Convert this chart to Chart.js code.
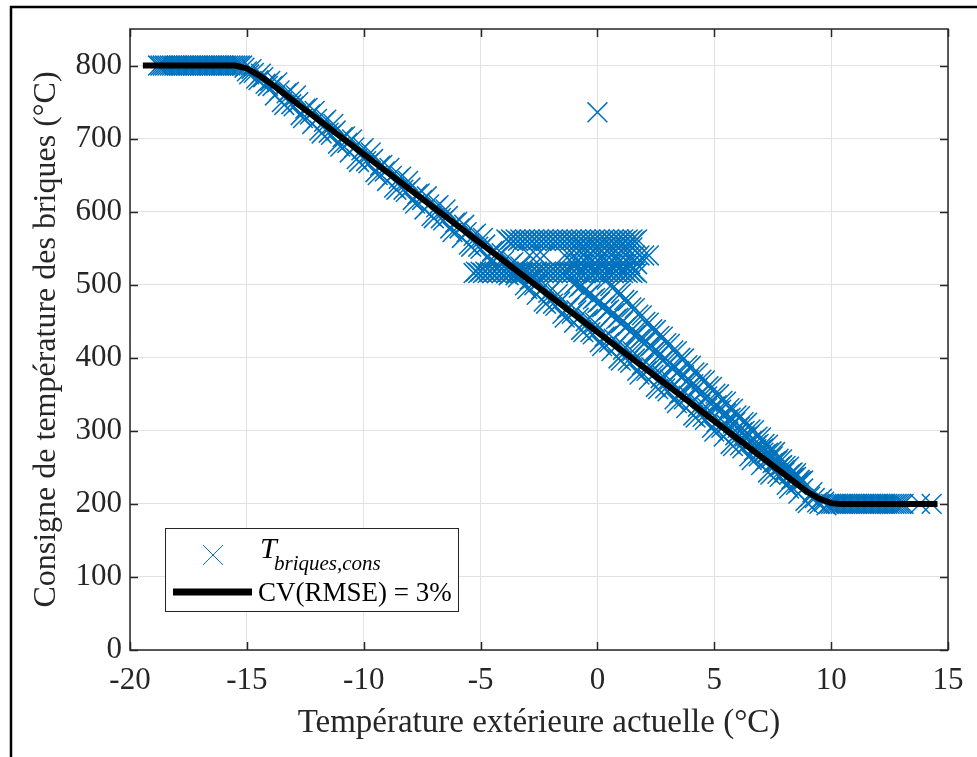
<!DOCTYPE html>
<html>
<head>
<meta charset="utf-8">
<script src="https://cdn.jsdelivr.net/npm/chart.js@4"></script>
<style>
  html, body { margin: 0; padding: 0; background: #fff; overflow: hidden; }
  canvas { display: block; }
</style>
</head>
<body>
<canvas id="chart" width="977" height="757"></canvas>
<script>
// Tick labels
const xTicks = [-20, -15, -10, -5, 0, 5, 10, 15];
const yTicks = [0, 100, 200, 300, 400, 500, 600, 700, 800];

// Fitted curve (CV(RMSE) = 3%)
const fitX = [-19.45, -15.5, -15.0, -14.5, -14.0, 9.0, 9.5, 10.0, 10.4, 14.55];
const fitY = [800, 800, 796, 787, 776, 216, 207, 201, 200, 200];

const plateauHigh = [
  [-18.8, 800], [-18.7, 800], [-18.6, 800], [-18.5, 800], [-18.4, 800], [-18.3, 800],
  [-18.2, 800], [-18.1, 800], [-18.0, 800], [-17.9, 800], [-17.8, 800], [-17.7, 800],
  [-17.6, 800], [-17.5, 800], [-17.4, 800], [-17.3, 800], [-17.2, 800], [-17.1, 800],
  [-17.0, 800], [-16.9, 800], [-16.8, 800], [-16.7, 800], [-16.6, 800], [-16.5, 800],
  [-16.4, 800], [-16.3, 800], [-16.2, 800], [-16.1, 800], [-16.0, 800], [-15.9, 800],
  [-15.8, 800], [-15.7, 800], [-15.6, 800], [-15.5, 800], [-15.4, 800], [-15.3, 800]
];

const mainBand = [
  [-15.2, 800], [-15.0, 792], [-14.8, 795], [-14.6, 782], [-14.4, 789], [-14.2, 775], [-14.0, 779],
  [-13.8, 759], [-13.6, 766], [-13.4, 746], [-13.2, 764], [-13.0, 744], [-12.8, 750], [-12.6, 728],
  [-12.4, 742], [-12.2, 720], [-12.0, 727], [-11.8, 707], [-11.6, 726], [-11.4, 705], [-11.2, 711],
  [-11.0, 689], [-10.8, 703], [-10.6, 681], [-10.4, 688], [-10.2, 668], [-10.0, 687], [-9.8, 666],
  [-9.6, 672], [-9.4, 650], [-9.2, 664], [-9.0, 642], [-8.8, 649], [-8.6, 630], [-8.4, 648],
  [-8.2, 627], [-8.0, 633], [-7.8, 611], [-7.6, 625], [-7.4, 603], [-7.2, 610], [-7.0, 591],
  [-6.8, 609], [-6.6, 588], [-6.4, 594], [-6.2, 572], [-6.0, 586], [-5.8, 564], [-5.6, 572],
  [-5.4, 552], [-5.2, 570], [-5.0, 549], [-4.8, 555], [-4.6, 533], [-4.4, 547], [-4.2, 525],
  [-4.0, 533], [-3.8, 513], [-3.6, 531], [-3.4, 510], [-3.2, 516], [-3.0, 494], [-2.8, 508],
  [-2.6, 486], [-2.4, 494], [-2.2, 474], [-2.0, 492], [-1.8, 471], [-1.6, 477], [-1.4, 455],
  [-1.2, 469], [-1.0, 448], [-0.8, 455], [-0.6, 435], [-0.4, 453], [-0.2, 432], [0.0, 438],
  [0.2, 416], [0.4, 430], [0.6, 409], [0.8, 416], [1.0, 396], [1.2, 414], [1.4, 393],
  [1.6, 399], [1.8, 377], [2.0, 391], [2.2, 370], [2.4, 377], [2.6, 357], [2.8, 375],
  [3.0, 354], [3.2, 360], [3.4, 338], [3.6, 352], [3.8, 331], [4.0, 338], [4.2, 318],
  [4.4, 336], [4.6, 315], [4.8, 321], [5.0, 299], [5.2, 314], [5.4, 292], [5.6, 299],
  [5.8, 279], [6.0, 297], [6.2, 276], [6.4, 282], [6.6, 260], [6.8, 275], [7.0, 253],
  [7.2, 260], [7.4, 240], [7.6, 258], [7.8, 237], [8.0, 243], [8.2, 221], [8.4, 236],
  [8.6, 214], [8.8, 221], [9.0, 201], [9.2, 216], [9.4, 202], [9.6, 207], [9.8, 198]
];

const mainBandB = [
  [-15.1, 797], [-14.9, 788], [-14.7, 790], [-14.5, 780], [-14.3, 784], [-14.1, 772],
  [-13.9, 772], [-13.7, 777], [-13.5, 750], [-13.3, 762], [-13.1, 747], [-12.9, 759], [-12.7, 732],
  [-12.5, 741], [-12.3, 733], [-12.1, 738], [-11.9, 711], [-11.7, 723], [-11.5, 708], [-11.3, 720],
  [-11.1, 693], [-10.9, 702], [-10.7, 694], [-10.5, 699], [-10.3, 672], [-10.1, 684], [-9.9, 669],
  [-9.7, 681], [-9.5, 654], [-9.3, 663], [-9.1, 655], [-8.9, 660], [-8.7, 633], [-8.5, 645],
  [-8.3, 630], [-8.1, 642], [-7.9, 616], [-7.7, 624], [-7.5, 616], [-7.3, 621], [-7.1, 594],
  [-6.9, 606], [-6.7, 591], [-6.5, 603], [-6.3, 577], [-6.1, 585], [-5.9, 577], [-5.7, 582],
  [-5.5, 555], [-5.3, 567], [-5.1, 552], [-4.9, 564], [-4.7, 538], [-4.5, 546], [-4.3, 538],
  [-4.1, 543], [-3.9, 516], [-3.7, 528], [-3.5, 513], [-3.3, 525], [-3.1, 499], [-2.9, 507],
  [-2.7, 499], [-2.5, 504], [-2.3, 477], [-2.1, 489], [-1.9, 474], [-1.7, 487], [-1.5, 460],
  [-1.3, 468], [-1.1, 460], [-0.9, 465], [-0.7, 438], [-0.5, 450], [-0.3, 435], [-0.1, 448],
  [0.1, 421], [0.3, 429], [0.5, 421], [0.7, 426], [0.9, 399], [1.1, 411], [1.3, 396],
  [1.5, 409], [1.7, 382], [1.9, 390], [2.1, 382], [2.3, 387], [2.5, 360], [2.7, 372],
  [2.9, 358], [3.1, 370], [3.3, 343], [3.5, 351], [3.7, 343], [3.9, 348], [4.1, 321],
  [4.3, 333], [4.5, 319], [4.7, 331], [4.9, 304], [5.1, 312], [5.3, 304], [5.5, 309],
  [5.7, 282], [5.9, 294], [6.1, 280], [6.3, 292], [6.5, 265], [6.7, 273], [6.9, 265],
  [7.1, 270], [7.3, 243], [7.5, 256], [7.7, 241], [7.9, 253], [8.1, 226], [8.3, 234],
  [8.5, 226], [8.7, 231], [8.9, 204], [9.1, 210], [9.3, 208], [9.5, 200], [9.7, 203]
];

const upperBandInner = [
  [-1.0, 500], [-0.8, 496], [-0.6, 490], [-0.4, 486], [-0.2, 480], [0.0, 475], [0.2, 469],
  [0.4, 464], [0.6, 458], [0.8, 453], [1.0, 447], [1.2, 442], [1.4, 436], [1.6, 431],
  [1.8, 425], [2.0, 420], [2.2, 414], [2.4, 408], [2.6, 402], [2.8, 397], [3.0, 391],
  [3.2, 385], [3.4, 379], [3.6, 374], [3.8, 368], [4.0, 362], [4.2, 356], [4.4, 351],
  [4.6, 345], [4.8, 339], [5.0, 333], [5.2, 327], [5.4, 321], [5.6, 316], [5.8, 310],
  [6.0, 304], [6.2, 298], [6.4, 292], [6.6, 286], [6.8, 280], [7.0, 274], [7.2, 268],
  [7.4, 262], [7.6, 257], [7.8, 251], [8.0, 246], [8.2, 240], [8.4, 235], [8.6, 229],
  [-0.9, 503], [-0.7, 498], [-0.5, 493], [-0.3, 488], [-0.1, 482], [0.1, 477], [0.3, 471],
  [0.5, 466], [0.7, 461], [0.9, 455], [1.1, 450], [1.3, 444], [1.5, 439], [1.7, 433],
  [1.9, 428], [2.1, 422], [2.3, 416], [2.5, 410], [2.7, 405], [2.9, 399], [3.1, 393],
  [3.3, 387], [3.5, 382], [3.7, 376], [3.9, 370], [4.1, 364], [4.3, 359], [4.5, 353],
  [4.7, 347], [4.9, 341], [5.1, 335], [5.3, 329], [5.5, 324], [5.7, 318], [5.9, 312],
  [6.1, 306], [6.3, 300], [6.5, 294], [6.7, 288], [6.9, 282], [7.1, 276], [7.3, 270],
  [7.5, 265], [7.7, 259], [7.9, 253], [8.1, 248], [8.3, 242], [8.5, 237]
];

const upperBandOuter = [
  [0.4, 507], [0.7, 497], [1.0, 488], [1.3, 478], [1.6, 468], [1.9, 458], [2.2, 448],
  [2.5, 438], [2.8, 429], [3.1, 419], [3.4, 409], [3.7, 399], [4.0, 389], [4.3, 379],
  [4.6, 369], [4.9, 360], [5.2, 350], [5.5, 340], [5.8, 330], [6.1, 320], [6.4, 311],
  [6.7, 301], [7.0, 291], [7.3, 281], [7.6, 271], [7.9, 261], [8.2, 251], [8.5, 242], [8.8, 232],
  [0.55, 498], [0.85, 489], [1.15, 479], [1.45, 469], [1.75, 459], [2.05, 449], [2.35, 439],
  [2.65, 430], [2.95, 420], [3.25, 410], [3.55, 400], [3.85, 390], [4.15, 380], [4.45, 370],
  [4.75, 361], [5.05, 351], [5.35, 341], [5.65, 331], [5.95, 321], [6.25, 312], [6.55, 302],
  [6.85, 292], [7.15, 282], [7.45, 272], [7.75, 262], [8.05, 252], [8.35, 243], [8.65, 233]
];

const clusterTop = [
  [-3.9, 562], [-3.7, 562], [-3.5, 562], [-3.3, 562], [-3.1, 562], [-2.9, 562], [-2.7, 562],
  [-2.5, 562], [-2.3, 562], [-2.1, 562], [-1.9, 562], [-1.7, 562], [-1.5, 562], [-1.3, 562],
  [-1.1, 562], [-0.9, 562], [-0.7, 562], [-0.5, 562], [-0.3, 562], [-0.1, 562], [0.1, 562],
  [0.3, 562], [0.5, 562], [0.7, 562], [0.9, 562], [1.1, 562], [1.3, 562], [1.5, 562], [1.7, 562],
  [-3.8, 560], [-3.6, 560], [-3.4, 560], [-3.2, 560], [-3.0, 560], [-2.8, 560], [-2.6, 560],
  [-2.4, 560], [-2.2, 560], [-2.0, 560], [-1.8, 560], [-1.6, 560], [-1.4, 560], [-1.2, 560],
  [-1.0, 560], [-0.8, 560], [-0.6, 560], [-0.4, 560], [-0.2, 560], [0.0, 560], [0.2, 560],
  [0.4, 560], [0.6, 560], [0.8, 560], [1.0, 560], [1.2, 560], [1.4, 560], [1.6, 560]
];

const clusterMid = [
  [-0.9, 551], [-0.6, 551], [-0.3, 551], [0.0, 551], [0.3, 551], [0.6, 551], [0.9, 551],
  [1.2, 551], [1.5, 551],
  [-2.9, 540], [-2.6, 540], [-2.3, 540], [-1.4, 540], [-1.2, 540], [-1.0, 540], [-0.8, 540],
  [-0.6, 540], [-0.4, 540], [-0.2, 540], [0.0, 540], [0.2, 540], [0.4, 540], [0.6, 540],
  [0.8, 540], [1.0, 540], [1.2, 540], [1.4, 540], [1.6, 540], [1.8, 540], [2.0, 540], [2.2, 540],
  [-1.0, 528], [-0.7, 528], [-0.4, 528], [-0.1, 528], [0.2, 528], [0.5, 528], [0.8, 528],
  [1.1, 528], [1.4, 528], [1.7, 528]
];

const clusterLow = [
  [-5.3, 516], [-5.1, 516], [-4.9, 516], [-4.7, 516], [-4.5, 516], [-4.3, 516], [-4.1, 516],
  [-3.9, 516], [-3.7, 516], [-3.5, 516], [-3.3, 516], [-3.1, 516], [-2.9, 516], [-2.7, 516],
  [-2.5, 516], [-2.3, 516], [-2.1, 516], [-1.9, 516], [-1.7, 516], [-1.5, 516], [-1.3, 516],
  [-1.1, 516], [-0.9, 516], [-0.7, 516], [-0.5, 516], [-0.3, 516], [-0.1, 516], [0.1, 516],
  [0.3, 516], [0.5, 516], [0.7, 516], [0.9, 516], [1.1, 516], [1.3, 516], [1.5, 516], [1.7, 516],
  [-5.2, 518], [-5.0, 518], [-4.8, 518], [-4.6, 518], [-4.4, 518], [-4.2, 518], [-4.0, 518],
  [-3.8, 518], [-3.6, 518], [-3.4, 518], [-3.2, 518], [-3.0, 518], [-2.8, 518], [-2.6, 518],
  [-2.4, 518], [-2.2, 518], [-2.0, 518], [-1.8, 518], [-1.6, 518], [-1.4, 518], [-1.2, 518],
  [-1.0, 518], [-0.8, 518], [-0.6, 518], [-0.4, 518], [-0.2, 518], [0.0, 518], [0.2, 518],
  [0.4, 518], [0.6, 518], [0.8, 518], [1.0, 518], [1.2, 518], [1.4, 518], [1.6, 518]
];

const plateauLow = [
  [9.9, 200], [10.0, 200], [10.1, 200], [10.2, 200], [10.3, 200], [10.4, 200], [10.5, 200],
  [10.6, 200], [10.7, 200], [10.8, 200], [10.9, 200], [11.0, 200], [11.1, 200], [11.2, 200],
  [11.3, 200], [11.4, 200], [11.5, 200], [11.6, 200], [11.7, 200], [11.8, 200], [11.9, 200],
  [12.0, 200], [12.1, 200], [12.2, 200], [12.3, 200], [12.4, 200], [12.5, 200], [12.6, 200],
  [12.7, 200], [12.8, 200], [12.9, 200], [13.0, 200], [13.1, 200], [13.8, 200], [14.3, 200]
];

const outliers = [[0.0, 736]];

const FONT = '"Liberation Serif", "Times New Roman", serif';
const BLUE = '#0072BD';
const AXIS = '#262626';

const measured = [].concat(plateauHigh, mainBand, mainBandB, upperBandInner, upperBandOuter,
  clusterTop, clusterMid, clusterLow, plateauLow, outliers)
  .map(([x, y]) => ({ x, y }));
const fitted = fitX.map((x, i) => ({ x, y: fitY[i] }));

// white background + outer figure frame
const framePlugin = {
  id: 'frame',
  beforeDraw(chart) {
    const ctx = chart.ctx;
    ctx.save();
    ctx.fillStyle = '#fff';
    ctx.fillRect(0, 0, chart.width, chart.height);
    ctx.strokeStyle = '#000';
    ctx.lineWidth = 2.5;
    ctx.strokeRect(11, 7, 1100, 900);
    ctx.restore();
  }
};

// axes box, inward ticks and the legend
const boxPlugin = {
  id: 'box',
  afterDraw(chart) {
    const ctx = chart.ctx;
    const { left, right, top, bottom } = chart.chartArea;
    const xs = chart.scales.x, ys = chart.scales.y;
    ctx.save();
    ctx.strokeStyle = AXIS;
    ctx.lineWidth = 1.5;
    ctx.strokeRect(left, top, right - left, bottom - top);
    ctx.beginPath();
    xTicks.forEach(v => {
      const px = Math.round(xs.getPixelForValue(v)) + 0.5;
      ctx.moveTo(px, bottom); ctx.lineTo(px, bottom - 8);
      ctx.moveTo(px, top); ctx.lineTo(px, top + 8);
    });
    yTicks.forEach(v => {
      const py = Math.round(ys.getPixelForValue(v)) + 0.5;
      ctx.moveTo(left, py); ctx.lineTo(left + 8, py);
      ctx.moveTo(right, py); ctx.lineTo(right - 8, py);
    });
    ctx.stroke();

    // legend
    const lx = 165, ly = 528, lw = 293, lh = 83;
    ctx.fillStyle = '#fff';
    ctx.fillRect(lx, ly, lw, lh);
    ctx.strokeStyle = AXIS;
    ctx.lineWidth = 1;
    ctx.strokeRect(lx + 0.5, ly + 0.5, lw, lh);

    ctx.strokeStyle = BLUE;
    Chart.helpers.drawPoint(ctx, { pointStyle: 'crossRot', radius: 14, borderWidth: 1.5 }, 213, 555);

    ctx.fillStyle = '#000';
    ctx.textBaseline = 'alphabetic';
    ctx.textAlign = 'left';
    ctx.font = 'italic 30px ' + FONT;
    ctx.fillText('T', 260, 558);
    ctx.font = 'italic 21px ' + FONT;
    ctx.fillText('briques,cons', 274, 570);

    ctx.strokeStyle = '#000';
    ctx.lineWidth = 7;
    ctx.beginPath();
    ctx.moveTo(173, 592);
    ctx.lineTo(252, 592);
    ctx.stroke();
    ctx.font = '27px ' + FONT;
    ctx.fillText('CV(RMSE) = 3%', 258, 601);
    ctx.restore();
  }
};

new Chart(document.getElementById('chart').getContext('2d'), {
  type: 'scatter',
  data: {
    datasets: [
      {
        label: 'CV(RMSE) = 3%',
        data: fitted,
        showLine: true,
        borderColor: '#000',
        borderWidth: 6,
        pointRadius: 0,
        tension: 0,
        order: 0
      },
      {
        label: 'T briques,cons',
        data: measured,
        pointStyle: 'crossRot',
        pointRadius: 14,
        pointBorderWidth: 1.5,
        borderColor: BLUE,
        backgroundColor: BLUE,
        order: 1
      }
    ]
  },
  options: {
    responsive: false,
    animation: false,
    events: [],
    layout: { padding: { left: 10, right: 29, top: 29, bottom: 0 } },
    plugins: {
      legend: { display: false },
      tooltip: { enabled: false }
    },
    scales: {
      x: {
        type: 'linear',
        min: -20,
        max: 15,
        afterBuildTicks: s => { s.ticks = xTicks.map(v => ({ value: v })); },
        afterFit: s => { s.height = 107; },
        border: { display: false },
        grid: { color: '#e2e2e2', lineWidth: 1, drawTicks: false },
        ticks: {
          padding: 12,
          maxRotation: 0,
          color: AXIS,
          font: { family: FONT, size: 31 }
        },
        title: {
          display: true,
          text: 'Température extérieure actuelle (°C)',
          color: AXIS,
          font: { family: FONT, size: 33 },
          padding: { top: 0, bottom: 14 }
        }
      },
      y: {
        type: 'linear',
        min: 0,
        max: 850,
        afterBuildTicks: s => { s.ticks = yTicks.map(v => ({ value: v })); },
        afterFit: s => { s.width = 120; },
        border: { display: false },
        grid: { color: '#e2e2e2', lineWidth: 1, drawTicks: false },
        ticks: {
          padding: 8,
          color: AXIS,
          font: { family: FONT, size: 31 }
        },
        title: {
          display: true,
          text: 'Consigne de température des briques (°C)',
          color: AXIS,
          font: { family: FONT, size: 32 },
          padding: { top: 17, bottom: 0 }
        }
      }
    }
  },
  plugins: [framePlugin, boxPlugin]
});
</script>
</body>
</html>
